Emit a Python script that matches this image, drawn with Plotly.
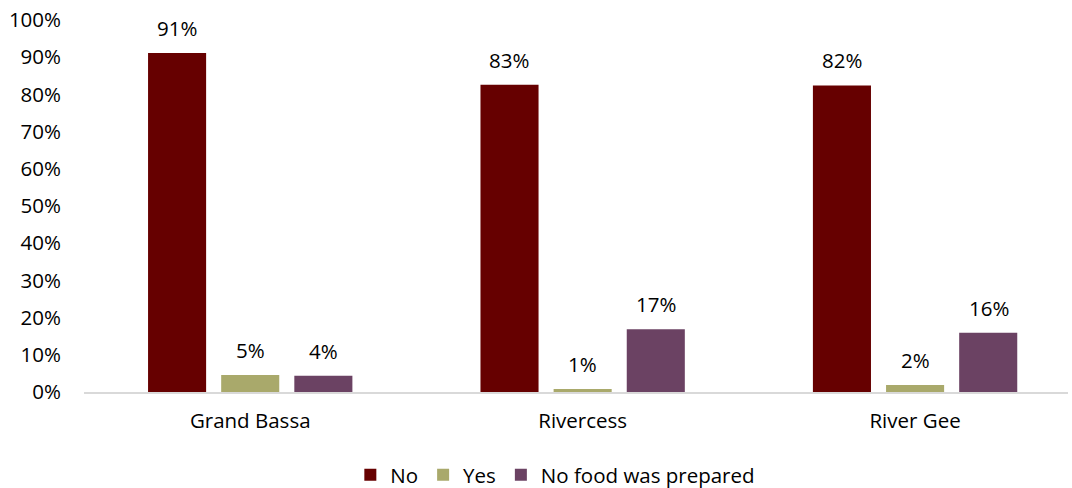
import plotly.graph_objects as go

categories = ["Grand Bassa", "Rivercess", "River Gee"]
series_names = ["No", "Yes", "No food was prepared"]
no_vals = [91.1, 82.6, 82.4]
yes_vals = [4.6, 0.8, 1.9]
nofood_vals = [4.4, 16.9, 15.9]
colors = ["#660000", "#a9a96b", "#6b4263"]
y_ticks = [0, 10, 20, 30, 40, 50, 60, 70, 80, 90, 100]
y_tick_labels = [f"{t}%" for t in y_ticks]

FONT = "Open Sans, sans-serif"
FS = 20.5

fig = go.Figure()
all_vals = [no_vals, yes_vals, nofood_vals]
for name, vals, col in zip(series_names, all_vals, colors):
    fig.add_trace(go.Bar(x=categories, y=vals, name=name, marker_color=col,
                         marker_line_width=0))

annotations = []
for i, vals in enumerate(all_vals):
    for cat, v in zip(categories, vals):
        annotations.append(dict(x=cat, y=v, xref="x", yref="y", text=f"{round(v)}%",
                                showarrow=False, xshift=(i - 1) * 73.5, yshift=25,
                                yanchor="middle",
                                font=dict(family=FONT, size=FS, color="#000000")))

fig.update_layout(
    width=1072, height=488,
    margin=dict(l=84, r=4, t=20, b=96, autoexpand=False),
    paper_bgcolor="white", plot_bgcolor="white",
    barmode="group", bargap=0.34, bargroupgap=0.206,
    font=dict(family=FONT, size=FS, color="#000000"),
    showlegend=True,
    legend=dict(orientation="h", x=0.479, xanchor="center", y=0.027, yanchor="middle",
                yref="container",
                font=dict(family=FONT, size=FS, color="#000000"),
                itemwidth=30, tracegroupgap=0),
    annotations=annotations,
)
fig.update_xaxes(range=[-0.5, 2.46], showline=True, linecolor="#d9d9d9", linewidth=1.5,
                 showgrid=False, ticks="", tickfont=dict(family=FONT, size=FS),
                 ticklabelstandoff=10, automargin=False)
fig.update_yaxes(range=[0, 100], tickvals=y_ticks, ticktext=y_tick_labels, showgrid=False,
                 zeroline=False, showline=False, ticks="", ticklabelstandoff=22,
                 tickfont=dict(family=FONT, size=FS), automargin=False)

fig.write_html("out.html")
